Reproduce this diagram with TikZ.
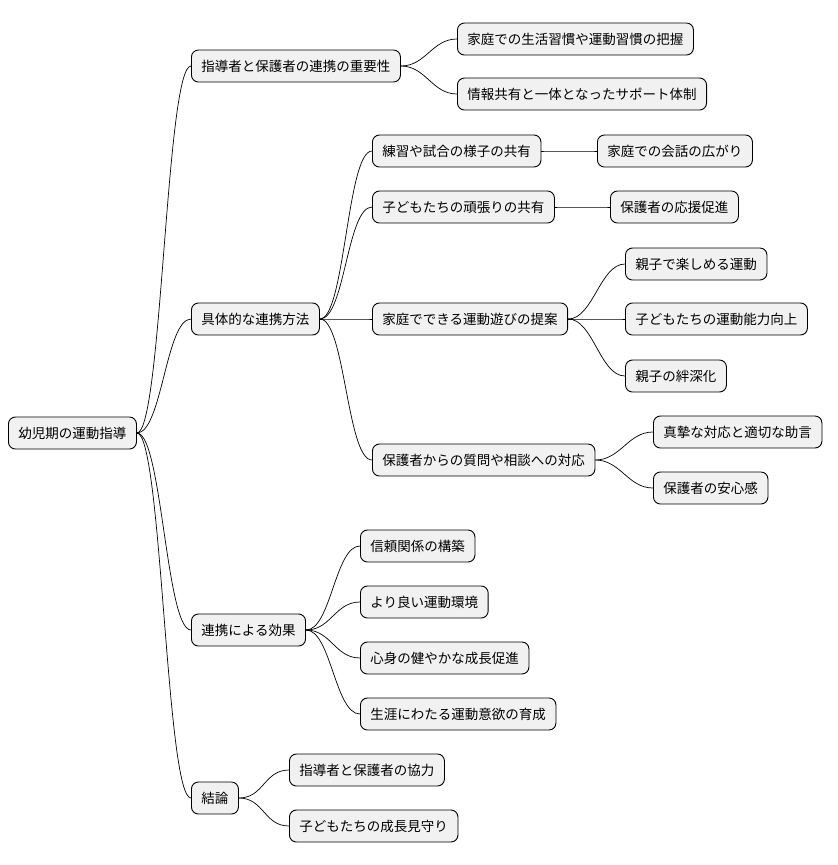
\documentclass[tikz,border=0pt]{standalone}
\usepackage{fontspec}
\newfontfamily\jpfont{Noto Sans CJK JP}
\definecolor{boxfill}{HTML}{F1F1F1}
\begin{document}
\begin{tikzpicture}[x=1pt,y=-1pt,
    mnode/.style={draw, line width=0.9pt, fill=boxfill, rounded corners=7pt,
      minimum height=32pt, inner xsep=10pt, anchor=west, font=\jpfont\fontsize{13.5}{16}\selectfont},
    link/.style={line width=0.7pt}]
    \useasboundingbox (0,0) rectangle (838,865);

    % root
    \node [mnode] (root) at (8,433) {幼児期の運動指導};
    % level 1
    \node [mnode] (imp) at (191,66) {指導者と保護者の連携の重要性};
    \node [mnode] (meth) at (191,319) {具体的な連携方法};
    \node [mnode] (eff) at (191,630) {連携による効果};
    \node [mnode] (conc) at (191,798) {結論};
    % level 2
    \node [mnode] (imp1) at (457,39) {家庭での生活習慣や運動習慣の把握};
    \node [mnode] (imp2) at (457,94) {情報共有と一体となったサポート体制};
    \node [mnode] (m1) at (372,151) {練習や試合の様子の共有};
    \node [mnode] (m2) at (372,207) {子どもたちの頑張りの共有};
    \node [mnode] (m3) at (372,319) {家庭でできる運動遊びの提案};
    \node [mnode] (m4) at (372,460) {保護者からの質問や相談への対応};
    \node [mnode] (e1) at (360,546) {信頼関係の構築};
    \node [mnode] (e2) at (360,602) {より良い運動環境};
    \node [mnode] (e3) at (360,658) {心身の健やかな成長促進};
    \node [mnode] (e4) at (360,714) {生涯にわたる運動意欲の育成};
    \node [mnode] (c1) at (289,770) {指導者と保護者の協力};
    \node [mnode] (c2) at (289,826) {子どもたちの成長見守り};
    % level 3
    \node [mnode] (m11) at (597,151) {家庭での会話の広がり};
    \node [mnode] (m21) at (610,207) {保護者の応援促進};
    \node [mnode] (m31) at (625,264) {親子で楽しめる運動};
    \node [mnode] (m32) at (625,319) {子どもたちの運動能力向上};
    \node [mnode] (m33) at (625,376) {親子の絆深化};
    \node [mnode] (m41) at (653,432) {真摯な対応と適切な助言};
    \node [mnode] (m42) at (653,488) {保護者の安心感};

    % connectors
    \foreach \p/\c in {root/imp,root/meth,root/eff,root/conc,
        imp/imp1,imp/imp2,meth/m1,meth/m2,meth/m3,meth/m4,
        eff/e1,eff/e2,eff/e3,eff/e4,conc/c1,conc/c2,
        m1/m11,m2/m21,m3/m31,m3/m32,m3/m33,m4/m41,m4/m42}
      \draw [link] (\p.east) .. controls ([xshift=25pt]\p.east) and ([xshift=-25pt]\c.west) .. (\c.west);
\end{tikzpicture}
\end{document}
